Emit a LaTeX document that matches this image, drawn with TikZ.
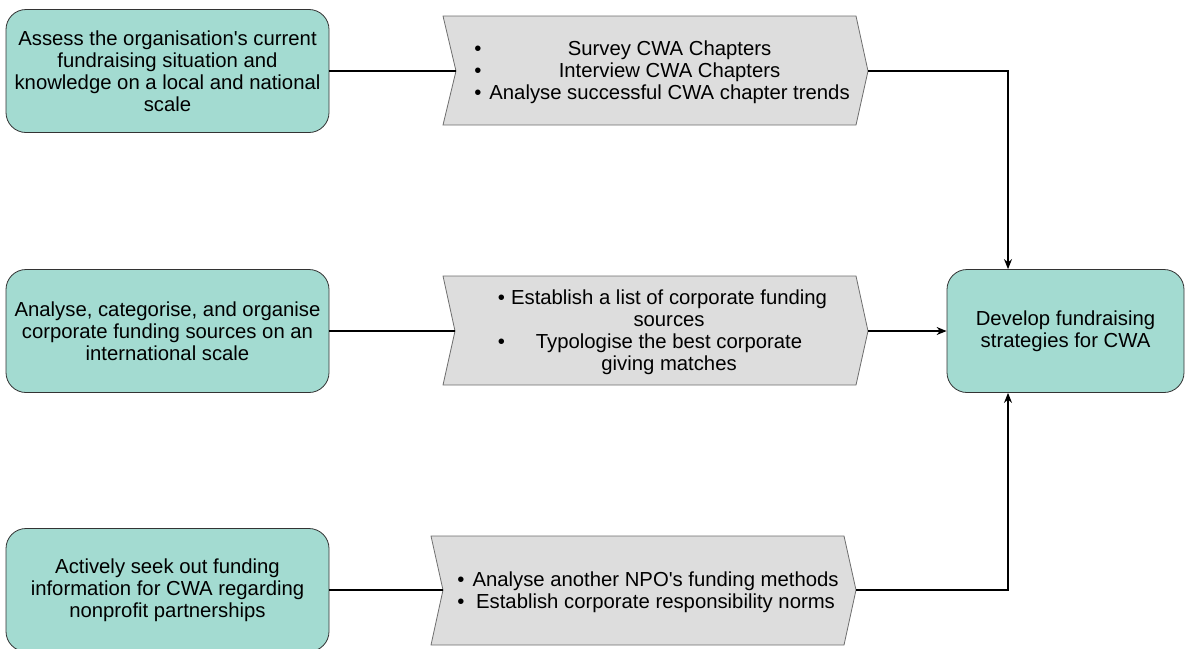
\documentclass[tikz,border=0pt]{standalone}
\usepackage{fontspec}
\setmainfont{Liberation Sans}
\usetikzlibrary{arrows.meta}
\definecolor{vertd}{HTML}{A3DBD1}
\definecolor{grisf}{HTML}{DDDDDD}
\definecolor{grisb}{HTML}{6E6E6E}
\begin{document}
\begin{tikzpicture}[x=1pt,y=-1pt]
\tikzset{boite/.style={draw=black!80, fill=vertd, rounded corners=20pt, minimum width=323pt, minimum height=123pt, align=center, inner sep=2pt, line width=0.8pt, font=\fontsize{20.3}{22}\selectfont},
chevron/.style={draw=grisb, fill=grisf, line width=0.8pt},
liste/.style={inner sep=0pt, font=\fontsize{20.3}{22}\selectfont},
lien/.style={line width=1.3pt},
fleche/.style={line width=1.3pt, -{Stealth[length=10pt,width=8pt]}}}
\clip (0,0) rectangle (1185,648);
% objectifs
\node[boite] (obj1) at (167.5,71) {Assess the organisation\textquotesingle s current\\fundraising situation and\\knowledge on a local and national\\scale};
\node[boite] (obj2) at (167.5,331) {Analyse, categorise, and organise\\corporate funding sources on an\\international scale};
\node[boite] (obj3) at (167.5,590) {Actively seek out funding\\information for CWA regarding\\nonprofit partnerships};
\node[boite, minimum width=237pt] (dev) at (1065.5,331) {Develop fundraising\\strategies for CWA};
% chevrons
\draw[chevron] (443,16) -- (856,16) -- (868,71) coordinate (c1out) -- (856,125) -- (443,125) -- (456,71) coordinate (c1in) -- cycle;
\draw[chevron] (443,276) -- (856,276) -- (868,331) coordinate (c2out) -- (856,385) -- (443,385) -- (455,331) coordinate (c2in) -- cycle;
\draw[chevron] (431,536) -- (844,536) -- (856,590) coordinate (c3out) -- (844,645) -- (431,645) -- (443,590) coordinate (c3in) -- cycle;
\node[liste] (c1) at (662,73) {\begin{tabular}{@{}c@{\hspace{8pt}}c@{}}
\textbullet & Survey CWA Chapters\\
\textbullet & Interview CWA Chapters\\
\textbullet & Analyse successful CWA chapter trends
\end{tabular}};
\node[liste] (c2) at (662.5,333) {\begin{tabular}{@{}c@{\hspace{6pt}}c@{}}
\textbullet & Establish a list of corporate funding\\
 & sources\\
\textbullet & Typologise the best corporate\\
 & giving matches
\end{tabular}};
\node[liste] (c3) at (648,593) {\begin{tabular}{@{}c@{\hspace{8pt}}c@{}}
\textbullet & Analyse another NPO\textquotesingle s funding methods\\
\textbullet & Establish corporate responsibility norms
\end{tabular}};
% liens
\coordinate (j) at (1008,0);
\draw[lien] (obj1.east) -- (c1in);
\draw[lien] (obj2.east) -- (c2in);
\draw[lien] (obj3.east) -- (c3in);
\draw[fleche] (c1out) -- (j |- c1out) -- (j |- dev.north);
\draw[fleche] (c2out) -- (dev.west);
\draw[fleche] (c3out) -- (j |- c3out) -- (j |- dev.south);
\end{tikzpicture}
\end{document}
